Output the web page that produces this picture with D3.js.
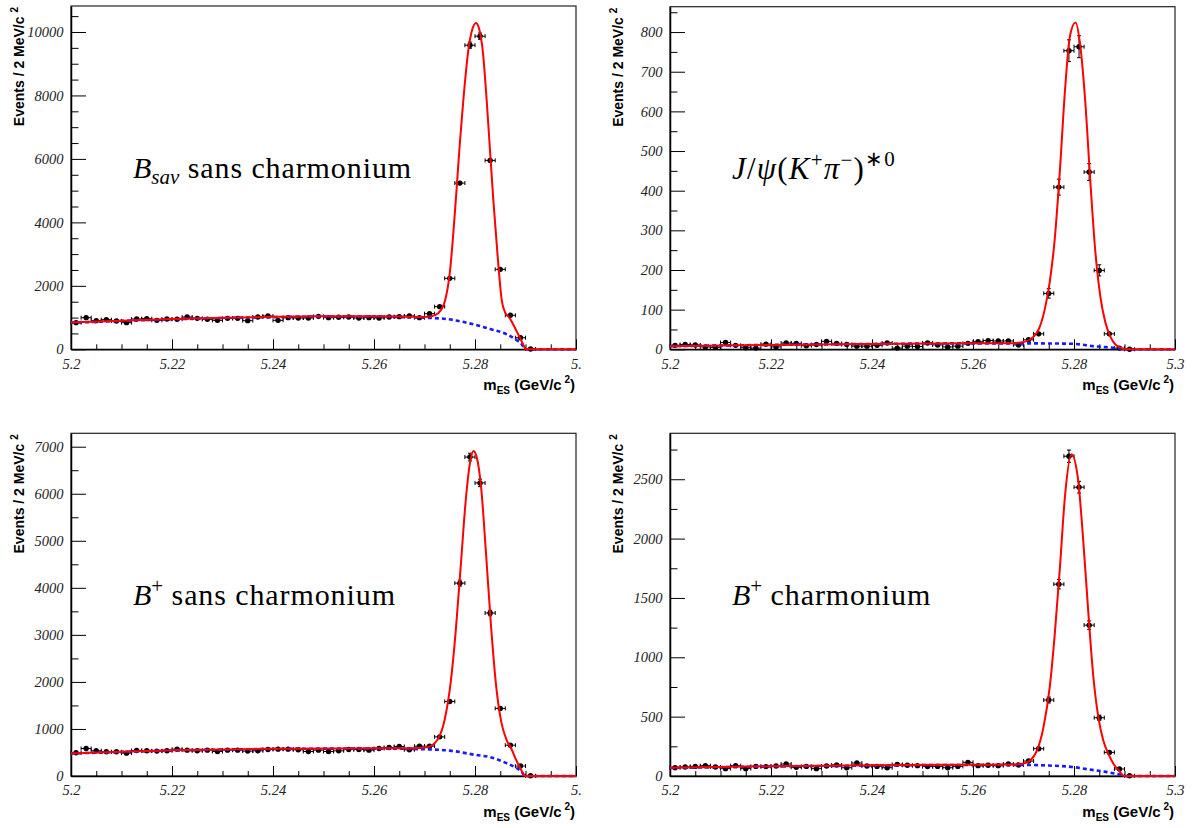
<!DOCTYPE html>
<html><head><meta charset="utf-8">
<script src="https://cdn.jsdelivr.net/npm/d3@7"></script>
<style>body{margin:0;background:#fff}</style>
</head><body>
<svg id="c" width="1197" height="828"></svg>
<script>
// ---------- data ----------
const binCenters = [5.201,5.203,5.205,5.207,5.209,5.211,5.213,5.215,5.217,5.219,
  5.221,5.223,5.225,5.227,5.229,5.231,5.233,5.235,5.237,5.239,
  5.241,5.243,5.245,5.247,5.249,5.251,5.253,5.255,5.257,5.259,
  5.261,5.263,5.265,5.267,5.269,5.271,5.273,5.275,5.277,5.279,
  5.281,5.283,5.285,5.287,5.289,5.291];

const xTickValues = [5.2, 5.22, 5.24, 5.26, 5.28, 5.3];
const xTickLabelsLeft = ["5.2", "5.22", "5.24", "5.26", "5.28", "5."];
const xTickLabelsRight = ["5.2", "5.22", "5.24", "5.26", "5.28", "5.3"];

// Panel 1: B_sav sans charmonium
const bsavCounts = [840,997,903,934,892,840,955,966,913,955,945,1018,976,945,913,976,976,903,1018,1050,
  913,997,987,987,1039,997,1008,1018,987,997,987,1018,1029,1050,997,1123,1344,2236,5238,9584,
  9868,5953,2520,1071,365,10];
const bsavFitX = [5.200,5.210,5.220,5.230,5.240,5.250,5.260,5.266,5.270,5.2715,5.2727,5.2735,5.2741,5.2750,5.2762,5.2770,5.27769,5.27868,5.2795,5.2802,5.2809,5.28152,5.28231,5.2830,5.28363,5.2845,5.28529,5.2860,5.2868,5.2880,5.2890,5.2897,5.2900,5.3000];
const bsavFitY = [845,903,953,993,1023,1038,1038,1028,1018,1045,1134,1300,1553,2400,4703,6500,7852,9426,10100,10287,10050,9426,7852,6200,4703,2900,1553,1150,1000,650,330,100,0,0];
const bsavBkgX = [5.200,5.210,5.220,5.230,5.240,5.250,5.260,5.266,5.270,5.2744,5.2780,5.2802,5.2830,5.2863,5.2882,5.2893,5.2899,5.3000];
const bsavBkgY = [835,895,945,985,1015,1030,1030,1015,995,954,850,765,640,472,293,150,0,0];
const bsavYTicks = [0,2000,4000,6000,8000,10000];

// Panel 2: J/psi (K+ pi-)*0
const jpsiCounts = [10,12,11,6,5,17,10,4,3,13,6,16,15,9,12,20,15,12,8,8,
  10,16,3,8,7,16,11,6,8,15,19,22,21,21,11,24,39,141,409,753,
  763,447,199,39,3,0];
const jpsiFitX = [5.200,5.220,5.240,5.260,5.268,5.2705,5.2720,5.2730,5.2742,5.2752,5.2762,5.2772,5.2782,5.2792,5.2803,5.2812,5.2822,5.2832,5.2842,5.2852,5.2862,5.2872,5.2882,5.2893,5.2899,5.3000];
const jpsiFitY = [8,11,13.5,15,15.5,20,32,50,100,170,280,450,650,790,824,770,630,430,250,135,68,32,12,4,0,0];
const jpsiBkgX = [5.200,5.220,5.240,5.260,5.270,5.2797,5.2837,5.2863,5.2882,5.2893,5.2899,5.3000];
const jpsiBkgY = [8,11,13.5,15,15,14,8,5.5,3.5,1.5,0,0];
const jpsiYTicks = [0,100,200,300,400,500,600,700,800];

// Panel 3: B+ sans charmonium
const bplusCounts = [493,585,536,514,514,486,543,536,529,536,571,550,536,550,521,550,550,529,536,564,
  571,571,557,521,550,521,536,564,564,550,585,606,627,557,634,634,832,1585,4100,6780,
  6230,3465,1437,655,211,5];
const bplusFitX = [5.200,5.210,5.220,5.230,5.240,5.250,5.260,5.267,5.2705,5.2725,5.2740,5.2752,5.2762,5.2772,5.2782,5.2790,5.2797,5.2804,5.2812,5.2822,5.2832,5.2842,5.2852,5.2862,5.2872,5.2882,5.2891,5.2899,5.3000];
const bplusFitY = [480,515,545,565,578,585,588,588,610,760,1200,2000,3100,4500,5900,6650,6909,6750,6150,4700,3150,1900,1150,780,580,330,140,0,0];
const bplusBkgX = [5.200,5.210,5.220,5.230,5.240,5.250,5.260,5.266,5.270,5.275,5.280,5.283,5.2863,5.2882,5.2893,5.2899,5.3000];
const bplusBkgY = [478,512,541,561,574,581,583,578,568,540,450,400,270,170,85,0,0];
const bplusYTicks = [0,1000,2000,3000,4000,5000,6000,7000];

// Panel 4: B+ charmonium
const bplusCcCounts = [70,76,81,87,76,62,87,62,81,79,84,101,73,81,62,84,93,70,109,84,
  81,70,98,90,87,79,81,70,81,115,87,90,87,101,93,126,230,640,1616,2694,
  2433,1271,491,199,59,2];
const bplusCcFitX = [5.200,5.220,5.240,5.260,5.268,5.2705,5.2725,5.2740,5.2752,5.2762,5.2772,5.2782,5.2795,5.2808,5.2818,5.2828,5.2838,5.2848,5.2858,5.2870,5.2880,5.2890,5.2899,5.3000];
const bplusCcFitY = [70,82,90,95,96,112,200,420,750,1200,1750,2350,2710,2500,2000,1400,850,500,300,170,90,40,0,0];
const bplusCcBkgX = [5.200,5.220,5.240,5.260,5.270,5.275,5.2797,5.283,5.2863,5.2882,5.2893,5.2899,5.3000];
const bplusCcBkgY = [68,80,88,93,93,88,76,55,35,20,10,0,0];
const bplusCcYTicks = [0,500,1000,1500,2000,2500];

// ---------- layout ----------
const panels = [
  {counts:bsavCounts, fitX:bsavFitX, fitY:bsavFitY, bkgX:bsavBkgX, bkgY:bsavBkgY,
   yTicks:bsavYTicks, yMinorStep:500, yMax:10819, xLabels:xTickLabelsLeft,
   left:71, right:576, top:6, bottom:349.3, label:"bsav"},
  {counts:jpsiCounts, fitX:jpsiFitX, fitY:jpsiFitY, bkgX:jpsiBkgX, bkgY:jpsiBkgY,
   yTicks:jpsiYTicks, yMinorStep:50, yMax:864, xLabels:xTickLabelsRight,
   left:670, right:1175, top:6.7, bottom:349.3, label:"jpsi"},
  {counts:bplusCounts, fitX:bplusFitX, fitY:bplusFitY, bkgX:bplusBkgX, bkgY:bplusBkgY,
   yTicks:bplusYTicks, yMinorStep:500, yMax:7285, xLabels:xTickLabelsLeft,
   left:71, right:576, top:433.3, bottom:776, label:"bplus"},
  {counts:bplusCcCounts, fitX:bplusCcFitX, fitY:bplusCcFitY, bkgX:bplusCcBkgX, bkgY:bplusCcBkgY,
   yTicks:bplusCcYTicks, yMinorStep:250, yMax:2887, xLabels:xTickLabelsRight,
   left:670, right:1175, top:433.3, bottom:776, label:"bpluscc"}
];

const svg = d3.select("#c");
const serif = "'Liberation Serif','Times New Roman',serif";
const sans = "'Liberation Sans',Arial,Helvetica,sans-serif";

function drawPanel(p) {
  const x = d3.scaleLinear().domain([5.2, 5.3]).range([p.left, p.right]);
  const y = d3.scaleLinear().domain([0, p.yMax]).range([p.bottom, p.top]);
  const g = svg.append("g");

  // frame
  g.append("rect").attr("x", p.left).attr("y", p.top)
    .attr("width", p.right - p.left).attr("height", p.bottom - p.top)
    .attr("fill", "none").attr("stroke", "#222").attr("stroke-width", 1.2);

  // y minor ticks
  const yMinor = d3.range(0, p.yMax + 1e-9, p.yMinorStep).filter(v => !p.yTicks.includes(v));
  const gyMin = g.append("g").attr("transform", `translate(${p.left},0)`)
    .call(d3.axisLeft(y).tickValues(yMinor).tickSizeInner(-7.5).tickSizeOuter(0).tickFormat(""));
  gyMin.select(".domain").remove();
  // y major
  const gy = g.append("g").attr("transform", `translate(${p.left},0)`)
    .call(d3.axisLeft(y).tickValues(p.yTicks).tickSizeInner(-15).tickSizeOuter(0)
      .tickPadding(7.5).tickFormat(d3.format("d")));
  gy.select(".domain").attr("stroke", "#000").attr("stroke-width", 1.5);
  gy.selectAll("text").attr("font-family", serif).attr("font-style", "italic")
    .attr("font-size", 14.5).attr("fill", "#222");

  // x minor ticks
  const xMinor = d3.range(5.2, 5.3001, 0.005).filter(v => !xTickValues.some(t => Math.abs(t - v) < 1e-6));
  const gxMin = g.append("g").attr("transform", `translate(0,${p.bottom})`)
    .call(d3.axisBottom(x).tickValues(xMinor).tickSizeInner(-5).tickSizeOuter(0).tickFormat(""));
  gxMin.select(".domain").remove();
  const gx = g.append("g").attr("transform", `translate(0,${p.bottom})`)
    .call(d3.axisBottom(x).tickValues(xTickValues).tickSizeInner(-10).tickSizeOuter(0)
      .tickPadding(9).tickFormat((d, i) => p.xLabels[i]));
  gx.select(".domain").attr("stroke", "#000").attr("stroke-width", 1.5);
  gx.selectAll("text").attr("font-family", serif).attr("font-style", "italic")
    .attr("font-size", 14.5).attr("fill", "#222");
  g.selectAll(".tick line").attr("stroke", "#000");

  const bkgPts = p.bkgX.map((v, i) => [v, p.bkgY[i]]);
  const fitPts = p.fitX.map((v, i) => [v, p.fitY[i]]);
  const line = d3.line().x(d => x(d[0])).y(d => y(d[1])).curve(d3.curveMonotoneX);

  // data points with error bars
  const pts = binCenters.map((c, i) => ({c, n: p.counts[i]}));
  const eb = g.append("g").attr("stroke", "#000").attr("stroke-width", 1);
  pts.forEach(d => {
    const cx = x(d.c), cy = y(d.n);
    const x0 = x(d.c - 0.001), x1 = x(d.c + 0.001);
    eb.append("line").attr("x1", x0).attr("x2", x1).attr("y1", cy).attr("y2", cy);
    eb.append("line").attr("x1", x0).attr("x2", x0).attr("y1", cy - 2).attr("y2", cy + 2);
    eb.append("line").attr("x1", x1).attr("x2", x1).attr("y1", cy - 2).attr("y2", cy + 2);
    if (d.n > 0) {
      const e = Math.sqrt(d.n);
      const ya = y(d.n + e), yb = y(d.n - e);
      eb.append("line").attr("x1", cx).attr("x2", cx).attr("y1", ya).attr("y2", yb);
      if (yb - ya > 5) {
        eb.append("line").attr("x1", cx - 2).attr("x2", cx + 2).attr("y1", ya).attr("y2", ya);
        eb.append("line").attr("x1", cx - 2).attr("x2", cx + 2).attr("y1", yb).attr("y2", yb);
      }
    }
  });
  g.append("g").selectAll("circle").data(pts).join("circle")
    .attr("cx", d => x(d.c)).attr("cy", d => y(d.n)).attr("r", 2.7).attr("fill", "#000");

  // fit curves
  g.append("path").datum(bkgPts).attr("d", line).attr("fill", "none")
    .attr("stroke", "#1a1aff").attr("stroke-width", 2.6).attr("stroke-dasharray", "4,3");
  g.append("path").datum(fitPts).attr("d", line).attr("fill", "none")
    .attr("stroke", "#ff0000").attr("stroke-width", 2);

  // axis titles
  const yt = g.append("text")
    .attr("transform", `translate(${p.left - 47.5},${p.top + 1}) rotate(-90)`)
    .attr("text-anchor", "end").attr("font-family", sans).attr("font-weight", "bold")
    .attr("font-size", 14).attr("fill", "#000");
  yt.append("tspan").text("Events / 2 MeV/c ");
  yt.append("tspan").attr("font-size", 10).attr("dy", -6).text("2");

  const xt = g.append("text").attr("x", p.right - 1).attr("y", p.bottom + 41)
    .attr("text-anchor", "end").attr("font-family", sans).attr("font-weight", "bold")
    .attr("font-size", 15).attr("fill", "#000");
  xt.append("tspan").text("m");
  xt.append("tspan").attr("font-size", 10).attr("dy", 4).text("ES");
  xt.append("tspan").attr("dy", -4).text(" (GeV/c");
  xt.append("tspan").attr("font-size", 10).attr("dy", -7).text(" 2");
  xt.append("tspan").attr("dy", 7).text(")");

  // panel label
  const lx = p.left + 62, ly = p.top + 172;
  const t = g.append("text").attr("x", lx).attr("y", ly).attr("font-family", serif)
    .attr("font-size", 30).attr("fill", "#000");
  if (p.label === "bsav") {
    t.append("tspan").attr("font-style", "italic").text("B");
    t.append("tspan").attr("font-style", "italic").attr("font-size", 21).attr("dy", 6).text("sav");
    t.append("tspan").attr("dy", -6).attr("letter-spacing", 0.9).text(" sans charmonium");
  } else if (p.label === "jpsi") {
    t.attr("font-size", 31).attr("letter-spacing", 1.2);
    t.append("tspan").attr("font-style", "italic").text("J");
    t.append("tspan").text("/");
    t.append("tspan").attr("font-style", "italic").text("ψ");
    t.append("tspan").text("(");
    t.append("tspan").attr("font-style", "italic").text("K");
    t.append("tspan").attr("font-size", 21).attr("dy", -12).text("+");
    t.append("tspan").attr("font-style", "italic").attr("dy", 12).text("π");
    t.append("tspan").attr("font-size", 21).attr("dy", -12).text("−");
    t.append("tspan").attr("dy", 12).text(")");
    t.append("tspan").attr("font-size", 21).attr("dy", -13).text("∗0");
  } else if (p.label === "bplus") {
    t.append("tspan").attr("font-style", "italic").text("B");
    t.append("tspan").attr("font-size", 21).attr("dy", -12).text("+");
    t.append("tspan").attr("dy", 12).attr("letter-spacing", 0.9).text(" sans charmonium");
  } else {
    t.append("tspan").attr("font-style", "italic").text("B");
    t.append("tspan").attr("font-size", 21).attr("dy", -12).text("+");
    t.append("tspan").attr("dy", 12).attr("letter-spacing", 0.9).text(" charmonium");
  }
}

panels.forEach(drawPanel);
</script>
</body></html>
